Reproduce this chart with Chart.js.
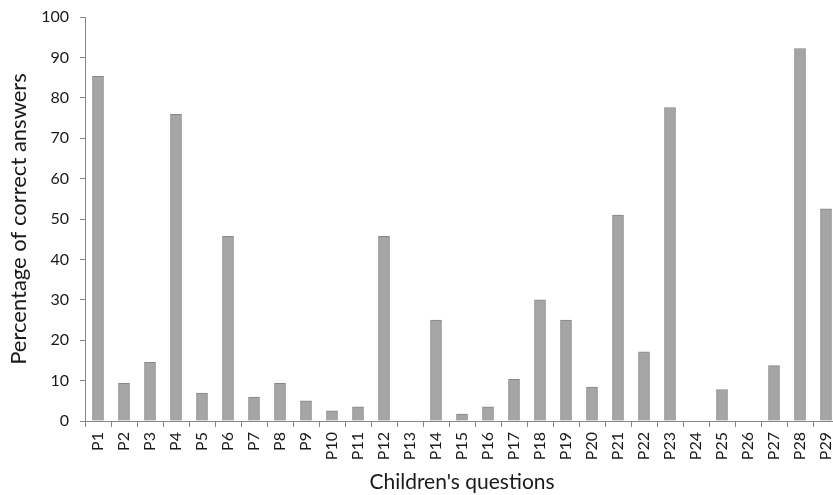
<!DOCTYPE html>
<html>
<head>
<meta charset="utf-8">
<script src="https://cdn.jsdelivr.net/npm/chart.js@4/dist/chart.umd.min.js"></script>
<style>
    html, body { margin: 0; padding: 0; background: #fff; overflow: hidden; }
    #wrap { position: relative; width: 839px; height: 495px; }
</style>
</head>
<body>
<div id="wrap"><canvas id="preguntasChart"></canvas></div>
<script>
const questions = ['P1','P2','P3','P4','P5','P6','P7','P8','P9','P10','P11','P12','P13','P14','P15',
    'P16','P17','P18','P19','P20','P21','P22','P23','P24','P25','P26','P27','P28','P29'];
const correctPct = [85.3, 9.3, 14.5, 75.9, 6.9, 45.7, 5.9, 9.3, 5.0, 2.5, 3.5, 45.7, 0, 25.0, 1.7,
    3.5, 10.3, 30.0, 25.0, 8.4, 51.0, 17.1, 77.6, 0, 7.8, 0, 13.7, 92.2, 52.5];
const yTicks = [0, 10, 20, 30, 40, 50, 60, 70, 80, 90, 100];

document.addEventListener("DOMContentLoaded", function () {
    const ctx = document.getElementById('preguntasChart').getContext('2d');
    const fontFamily = "Lato, 'Open Sans', sans-serif";

    new Chart(ctx, {
        type: 'bar',
        data: {
            labels: questions,
            datasets: [{
                label: 'Percentage of correct answers',
                data: correctPct,
                backgroundColor: '#a5a5a5',
                borderColor: '#868686',
                borderWidth: 1,
                barThickness: 11
            }]
        },
        options: {
            responsive: true,
            maintainAspectRatio: false,
            animation: false,
            layout: { padding: { top: 17, right: 0, left: 0, bottom: 0 } },
            plugins: {
                legend: { display: false },
                tooltip: { enabled: false }
            },
            scales: {
                x: {
                    afterFit: function (axis) {
                        axis.height = 74;
                        axis.paddingLeft = 0;
                        axis.paddingRight = 0;
                    },
                    grid: {
                        drawOnChartArea: false,
                        drawTicks: true,
                        tickLength: 6,
                        color: '#868686'
                    },
                    border: { color: '#868686' },
                    ticks: {
                        minRotation: 90,
                        maxRotation: 90,
                        autoSkip: false,
                        color: '#1a1a1a',
                        padding: 5,
                        font: { family: fontFamily, size: 16 }
                    },
                    title: {
                        display: true,
                        text: "Children's questions",
                        color: '#1a1a1a',
                        padding: { top: 0, bottom: 0 },
                        font: { family: fontFamily, size: 21 }
                    }
                },
                y: {
                    min: 0,
                    max: 100,
                    afterFit: function (axis) {
                        axis.width = 85;
                        axis.paddingTop = 0;
                        axis.paddingBottom = 0;
                    },
                    afterBuildTicks: function (axis) {
                        axis.ticks = yTicks.map(v => ({ value: v }));
                    },
                    grid: {
                        drawOnChartArea: false,
                        drawTicks: true,
                        tickLength: 5,
                        color: '#868686'
                    },
                    border: { color: '#868686' },
                    ticks: {
                        color: '#1a1a1a',
                        padding: 11,
                        font: { family: fontFamily, size: 16 }
                    },
                    title: {
                        display: true,
                        text: 'Percentage of correct answers',
                        color: '#1a1a1a',
                        padding: { top: 6, bottom: 0 },
                        font: { family: fontFamily, size: 22 }
                    }
                }
            }
        }
    });
});
</script>
</body>
</html>
